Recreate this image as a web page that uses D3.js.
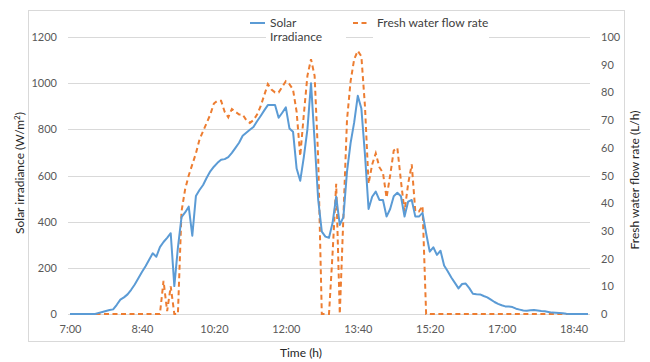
<!DOCTYPE html>
<html><head><meta charset="utf-8">
<script src="https://cdn.jsdelivr.net/npm/d3@7"></script>
<style>body{margin:0;background:#fff}svg{display:block;font-family:Lato,"Open Sans",sans-serif}</style>
</head><body><svg id="c" width="650" height="362"></svg>
<script>
// minutes after 7:00, 5-minute steps
const minutes = d3.range(0, 725, 5);
const solarIrradiance = [
  0,0,0,0,0,0,0,0,5,9,13,17,
  20,40,62,72,85,105,128,155,182,207,235,263,
  248,290,312,330,350,121,288,420,440,465,339,511,
  537,559,590,618,638,655,668,671,680,698,720,742,
  772,785,798,810,835,858,882,905,905,905,850,872,
  895,804,790,630,577,680,800,1000,750,494,357,335,
  330,395,508,386,420,616,740,830,945,890,690,455,
  508,530,494,494,422,455,510,525,510,422,487,494,
  422,422,438,350,270,289,256,274,210,185,158,135,
  111,130,132,112,88,86,85,78,72,62,52,44,
  38,33,32,30,23,19,15,14,16,17,15,13,
  12,9,6,5,4,3,1,0,0,0,0,0,
  0
];
const freshWaterFlow = [
  0,0,0,0,0,0,0,0,0,0,0,0,
  0,0,0,0,0,0,0,0,0,0,0,0,
  0,0,12,1,10,0,0,37,45,50,54,58,
  63,66,69,72,76,77,77,73,71,74,73,72,
  72,70,69,70,72,75,79,83,81,80,80,82,
  84,83,81,73,57,72,86,92,86,56,0,0,
  0,22,47,0,35,70,84,92,95,93,75,47,
  54,58,53,51,42,50,59,60,48,37,47,54,
  37,37,39,0,0,0,0,0,0,0,0,0,
  0,0,0,0,0,0,0,0,0,0,0,0,
  0,0,0,0,0,0,0,0,0,0,0,0,
  0,0,0,0,0,0,0,0,0,0,0,0,
  0
];
const xTicks = [0,100,200,300,400,500,600,700];
const xTickLabels = ["7:00","8:40","10:20","12:00","13:40","15:20","17:00","18:40"];
const leftTicks = [0,200,400,600,800,1000,1200];
const rightTicks = [0,10,20,30,40,50,60,70,80,90,100];

const svg = d3.select("#c");
const x = d3.scaleLinear().domain([0,720]).range([70,588]);
const yL = d3.scaleLinear().domain([0,1200]).range([314,37]);
const yR = d3.scaleLinear().domain([0,100]).range([314,37]);

// chart border
svg.append("rect").attr("x",28.5).attr("y",10.5).attr("width",596).attr("height",331)
  .attr("fill","#fff").attr("stroke","#d9d9d9");

// gridlines
svg.append("g").selectAll("line").data(leftTicks).join("line")
  .attr("x1",68).attr("x2",590).attr("y1",d=>Math.round(yL(d))+0.5).attr("y2",d=>Math.round(yL(d))+0.5)
  .attr("stroke","#d9d9d9").attr("stroke-width",1);

const tickFont = "Lato,'Open Sans',sans-serif";
// left axis
const gl = svg.append("g").attr("transform","translate(62,0)")
  .call(d3.axisLeft(yL).tickValues(leftTicks).tickFormat(d3.format("d")).tickSize(0).tickPadding(5));
gl.select(".domain").remove();
gl.selectAll("text").attr("fill","#595959").style("font-size","11px").style("font-family",tickFont);

// right axis
const gr = svg.append("g").attr("transform","translate(596,0)")
  .call(d3.axisRight(yR).tickValues(rightTicks).tickFormat(d3.format("d")).tickSize(0).tickPadding(5));
gr.select(".domain").remove();
gr.selectAll("text").attr("fill","#595959").style("font-size","11px").style("font-family",tickFont);

// bottom axis
const gb = svg.append("g").attr("transform","translate(0,322)")
  .call(d3.axisBottom(x).tickValues(xTicks).tickFormat((d,i)=>xTickLabels[i]).tickSize(0).tickPadding(3));
gb.select(".domain").remove();
gb.selectAll("text").attr("fill","#595959").style("font-size","11px").style("font-family",tickFont);

// series
const lineL = d3.line().x((d,i)=>x(minutes[i])).y(d=>yL(d));
const lineR = d3.line().x((d,i)=>x(minutes[i])).y(d=>yR(d));
svg.append("path").datum(freshWaterFlow).attr("d",lineR).attr("fill","none")
  .attr("stroke","#ed7d31").attr("stroke-width",2).attr("stroke-dasharray","5,3.5");
svg.append("path").datum(solarIrradiance).attr("d",lineL).attr("fill","none")
  .attr("stroke","#5b9bd5").attr("stroke-width",2).attr("stroke-linejoin","round");

// axis titles
svg.append("text").attr("x",301).attr("y",357).attr("text-anchor","middle")
  .attr("fill","#262626").style("font-size","12px").text("Time (h)");
const tl = svg.append("text").attr("transform","translate(24,173) rotate(-90)").attr("text-anchor","middle")
  .attr("fill","#262626").style("font-size","12px");
tl.append("tspan").text("Solar irradiance (W/m");
tl.append("tspan").attr("dy",-4).style("font-size","8px").text("2");
tl.append("tspan").attr("dy",4).text(")");
svg.append("text").attr("transform","translate(639,180) rotate(-90)").attr("text-anchor","middle")
  .attr("fill","#262626").style("font-size","12px").text("Fresh water flow rate (L/h)");

// legend
const lg = svg.append("g");
lg.append("rect").attr("x",266).attr("y",14).attr("width",80).attr("height",32).attr("fill","#fff");
lg.append("rect").attr("x",373).attr("y",14).attr("width",116).attr("height",28).attr("fill","#fff");
lg.append("line").attr("x1",250).attr("x2",265).attr("y1",23).attr("y2",23)
  .attr("stroke","#5b9bd5").attr("stroke-width",2);
lg.append("text").attr("x",270).attr("y",27).attr("fill","#404040").style("font-size","12px").text("Solar");
lg.append("text").attr("x",270).attr("y",41).attr("fill","#404040").style("font-size","12px").text("Irradiance");
lg.append("line").attr("x1",353).attr("x2",369).attr("y1",23).attr("y2",23)
  .attr("stroke","#ed7d31").attr("stroke-width",2).attr("stroke-dasharray","5,3.5");
lg.append("text").attr("x",377).attr("y",27).attr("fill","#404040").style("font-size","12px").text("Fresh water flow rate");
</script></body></html>
